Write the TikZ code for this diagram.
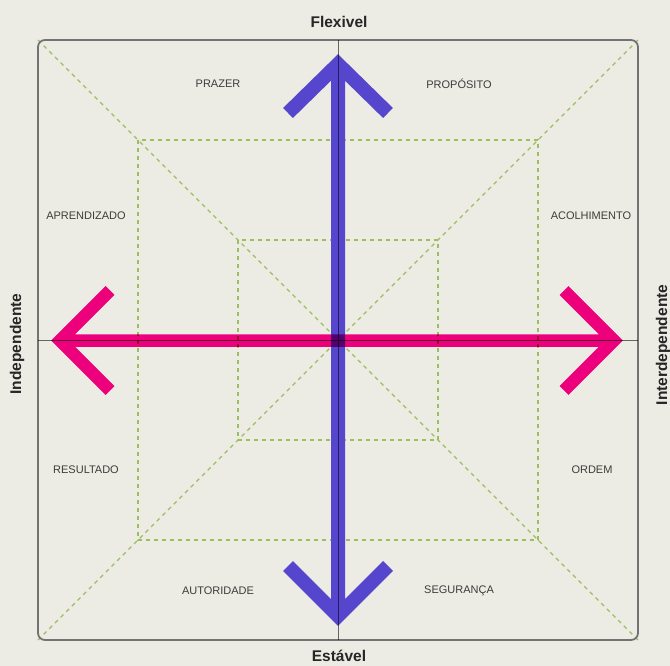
\documentclass[tikz,border=0pt]{standalone}
\usepackage{fontspec}
\setmainfont{Liberation Sans}
\definecolor{bg}{RGB}{236,236,228}
\definecolor{dgreen}{RGB}{155,190,95}
\definecolor{framec}{RGB}{115,115,115}
\definecolor{blueA}{RGB}{85,70,205}
\definecolor{pinkA}{RGB}{255,0,139}
\definecolor{txt}{RGB}{60,60,60}
\definecolor{axc}{RGB}{110,110,110}
\begin{document}
\begin{tikzpicture}[x=1pt,y=-1pt,
  guide/.style={dgreen, line width=1.3pt, dash pattern=on 4pt off 4pt},
  box/.style={framec, line width=1.8pt, rounded corners=7pt},
  axisline/.style={axc, line width=1pt},
  varrow/.style={blueA, line width=14pt, line cap=butt, line join=miter},
  harrow/.style={pinkA, line width=12.5pt, line cap=butt, line join=miter},
  lab/.style={font=\fontsize{11}{12}\selectfont, text=txt, inner sep=0pt},
  axlab/.style={font=\fontsize{15.5}{17}\selectfont\bfseries, text=black!85, inner sep=0pt}]
\fill[bg] (0,0) rectangle (670,666);
\useasboundingbox (0,0) rectangle (670,666);
% key points
\coordinate (c) at (338,340);
\coordinate (o1) at (38,40);  \coordinate (o2) at (638,40);
\coordinate (o3) at (638,640); \coordinate (o4) at (38,640);
\coordinate (m1) at (138,140); \coordinate (m3) at (538,540);
\coordinate (i1) at (238,240); \coordinate (i3) at (438,440);
\coordinate (top) at (338,40); \coordinate (bot) at (338,640);
\coordinate (lft) at (38,340.5); \coordinate (rgt) at (638,340.5);
% guides
\draw[guide] (o1) -- (c) (o2) -- (c) (o3) -- (c) (o4) -- (c);
\draw[guide] (m1) rectangle (m3);
\draw[guide] (i1) rectangle (i3);
% frame
\draw[box] (o1) rectangle (o3);
% blue vertical arrow
\coordinate (vt) at (338,64); \coordinate (vb) at (338,616);
\coordinate (vt1) at (288,113); \coordinate (vt2) at (388,113);
\coordinate (vb1) at (288,566); \coordinate (vb2) at (388,566);
\draw[varrow] (vt1) -- (vt) -- (vt2) (vt) -- (vb) (vb1) -- (vb) -- (vb2);
% pink horizontal arrow
\coordinate (hl) at (60,340.5); \coordinate (hr) at (614,340.5);
\coordinate (hl1) at (110,290.5); \coordinate (hl2) at (110,390.5);
\coordinate (hr1) at (564,290.5); \coordinate (hr2) at (564,390.5);
\begin{scope}[blend mode=multiply]
\draw[harrow] (hl1) -- (hl) -- (hl2) (hl) -- (hr) (hr1) -- (hr) -- (hr2);
\draw[axisline] (top) -- (bot) (lft) -- (rgt);
\end{scope}
% quadrant labels
\node[lab] (prazer) at (218,84) {PRAZER};
\node[lab] (proposito) at (459,84) {PROPÓSITO};
\node[lab] (aprend) at (86,216) {APRENDIZADO};
\node[lab] (acolh) at (591,216) {ACOLHIMENTO};
\node[lab] (result) at (86,470) {RESULTADO};
\node[lab] (ordem) at (592,470) {ORDEM};
\node[lab] (autor) at (218,591) {AUTORIDADE};
\node[lab] (segur) at (459,591) {SEGURANÇA};
% axis labels
\node[axlab] (flex) at (339,22) {Flexivel};
\node[axlab] (estavel) at (339,656) {Estável};
\node[axlab, rotate=90] (indep) at (17,344) {Independente};
\node[axlab, rotate=90] (inter) at (663,345) {Interdependente};
\end{tikzpicture}
\end{document}
